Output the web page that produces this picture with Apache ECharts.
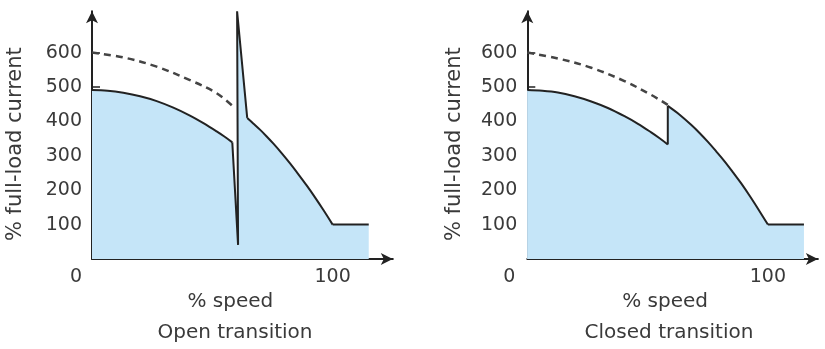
<!DOCTYPE html>
<html>
<head>
<meta charset="utf-8">
<script src="https://cdn.jsdelivr.net/npm/echarts@6/dist/echarts.min.js"></script>
<style>
  html, body { margin: 0; padding: 0; background: #fff; }
  #chart { width: 825px; height: 349px; }
</style>
</head>
<body>
<div id="chart"></div>
<script>
// Starting current versus speed for a wye-delta starter
// Open transition: current collapses, then spikes when the motor is reconnected
const openSpeed   = [0, 6.5, 13, 20, 26.9, 33.8, 40.7, 46.3, 51.8, 55, 58.3, 60.7, 60.3, 64.5, 67, 69.8, 72.5, 75.3, 78.8, 82.3, 85.7, 89.2, 92.6, 96.1, 100, 115];
const openCurrent = [491, 489, 483, 473, 459, 440, 417, 395, 371, 356, 339, 41, 720, 410, 394, 376, 357, 336, 308, 278, 247, 214, 180, 143, 100, 100];
// Closed transition: current steps up without the transient
const closedSpeed   = [0, 6.3, 12.7, 19.6, 26.6, 33.5, 40.4, 46, 51.5, 55, 58.4, 58.4, 63.2, 68.1, 71.5, 75, 78.5, 82, 85.5, 89, 92.5, 95.9, 100, 115];
const closedCurrent = [491, 489, 484, 473, 458, 439, 415, 393, 368, 351, 333, 445, 420, 390, 367, 341, 313, 284, 252, 219, 183, 146, 100, 100];
// Full-voltage (across-the-line) current, drawn dashed
const openDashSpeed   = [0, 13, 26.9, 40.7, 51.8, 59.5];
const openDashCurrent = [600, 586, 559, 520, 482, 438];
const closedDashSpeed   = [0, 12.7, 26.6, 40.4, 51.5, 58.4];
const closedDashCurrent = [600, 583, 556, 517, 477, 448];

// Index ranges of the curved stretches; the rest are straight strokes
const openArcs   = [[0, 10], [13, 24]];
const openStraight = [[10, 13], [24, 25]];
const closedArcs   = [[0, 10], [11, 22]];
const closedStraight = [[10, 11], [22, 23]];

const yTicks = [100, 200, 300, 400, 500, 600];
const xTicks = [0, 100];
const panelTitles = ['Open transition', 'Closed transition'];
const xName = '% speed';
const yName = '% full-load current';

const pairs = (xs, ys) => xs.map((x, i) => [x, ys[i]]);

const FONT = 'DejaVu Sans';
const TEXT = '#3a3a3a';
const INK = '#222';
const FILL = '#c5e5f8';

function xAxisFor(gridIndex, max, zeroShift, namePad) {
  return {
    type: 'value', gridIndex, min: 0, max,
    name: xName, nameLocation: 'middle', nameGap: 26,
    nameTextStyle: { fontFamily: FONT, fontSize: 20, color: TEXT, padding: [0, namePad, 0, 0] },
    axisLine: { show: true, lineStyle: { color: INK, width: 2 }, symbol: ['none', 'arrow'], symbolSize: [9, 12] },
    axisTick: { show: true, inside: true, length: 9, lineStyle: { color: INK, width: 1.5 }, customValues: [100] },
    axisLabel: {
      show: true, margin: 9, customValues: xTicks, fontFamily: FONT, fontSize: 19, color: TEXT,
      formatter: v => v === 0 ? '{z|0}' : String(v),
      rich: { z: { fontFamily: FONT, fontSize: 19, color: TEXT, padding: [0, zeroShift, 0, 0] } }
    },
    splitLine: { show: false }
  };
}

function yAxisFor(gridIndex, nameGap) {
  return {
    type: 'value', gridIndex, min: 0, max: 720,
    name: yName, nameLocation: 'middle', nameGap, nameRotate: 90,
    nameTextStyle: { fontFamily: FONT, fontSize: 21, color: TEXT, padding: [0, 18, 0, 0] },
    axisLine: { show: true, lineStyle: { color: INK, width: 2 }, symbol: ['none', 'arrow'], symbolSize: [9, 12] },
    axisTick: { show: true, inside: true, length: 8, lineStyle: { color: INK, width: 1.5 }, customValues: yTicks },
    axisLabel: { show: true, margin: 10, customValues: yTicks, fontFamily: FONT, fontSize: 19, color: TEXT },
    splitLine: { show: false }
  };
}

// Solid fill under the whole curve (no stroke)
function baseFill(xi, xs, ys) {
  return {
    type: 'line', xAxisIndex: xi, yAxisIndex: xi, data: pairs(xs, ys),
    showSymbol: false, smooth: false, clip: false, silent: true,
    lineStyle: { width: 0, opacity: 0 },
    areaStyle: { color: FILL, opacity: 1 }, z: 1
  };
}

// One stroke piece of the curve: smooth for arcs, straight for the jumps
function piece(xi, xs, ys, range, smooth) {
  const d = pairs(xs, ys).slice(range[0], range[1] + 1);
  return {
    type: 'line', xAxisIndex: xi, yAxisIndex: xi, data: d,
    showSymbol: false, clip: false, silent: true,
    smooth: smooth ? 0.35 : false,
    lineStyle: { color: INK, width: 2, join: 'miter', cap: 'butt' },
    areaStyle: smooth ? { color: FILL, opacity: 1 } : undefined,
    z: smooth ? 2 : 3
  };
}

function dashed(xi, xs, ys) {
  return {
    type: 'line', xAxisIndex: xi, yAxisIndex: xi, data: pairs(xs, ys),
    showSymbol: false, smooth: 0.35, silent: true,
    lineStyle: { color: '#444', width: 2.5, type: [7, 5] }, z: 4
  };
}

function panelSeries(xi, xs, ys, arcs, straights, dxs, dys) {
  return [baseFill(xi, xs, ys)]
    .concat(arcs.map(r => piece(xi, xs, ys, r, true)))
    .concat(straights.map(r => piece(xi, xs, ys, r, false)))
    .concat([dashed(xi, dxs, dys)]);
}

const chart = echarts.init(document.getElementById('chart'), null, { renderer: 'canvas' });
chart.setOption({
  backgroundColor: '#fff',
  animation: false,
  title: [
    { text: panelTitles[0], left: 230, top: 318, textAlign: 'center',
      textStyle: { fontFamily: FONT, fontSize: 20, fontWeight: 'normal', color: TEXT } },
    { text: panelTitles[1], left: 664, top: 318, textAlign: 'center',
      textStyle: { fontFamily: FONT, fontSize: 20, fontWeight: 'normal', color: TEXT } }
  ],
  grid: [
    { left: 92, top: 11.3, width: 300.8, height: 247.7, containLabel: false },
    { left: 527.3, top: 11.3, width: 290.6, height: 247.7, containLabel: false }
  ],
  xAxis: [xAxisFor(0, 125, 32, 24), xAxisFor(1, 120.8, 36, 15)],
  yAxis: [yAxisFor(0, 66), yAxisFor(1, 62)],
  series: []
    .concat(panelSeries(0, openSpeed, openCurrent, openArcs, openStraight, openDashSpeed, openDashCurrent))
    .concat(panelSeries(1, closedSpeed, closedCurrent, closedArcs, closedStraight, closedDashSpeed, closedDashCurrent))
});
</script>
</body>
</html>
